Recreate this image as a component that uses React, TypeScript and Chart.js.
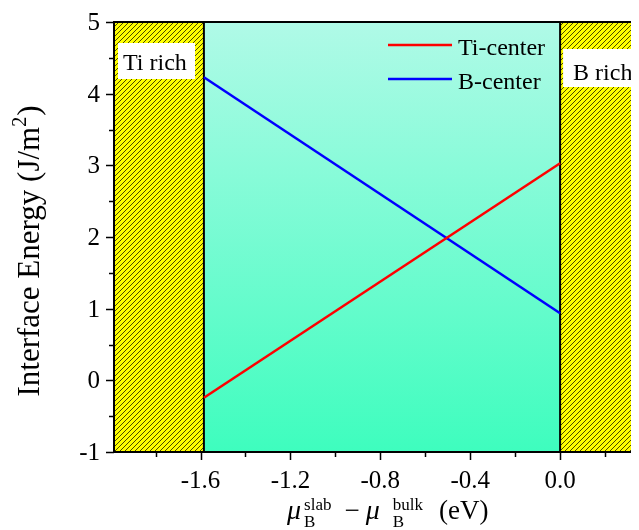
import React, { useEffect, useRef } from "react";
import { Chart, registerables } from "chart.js";

Chart.register(...registerables);

// ---- data ----
const muRange = [-1.585, 0]; // allowed chemical potential window (eV)
const tiCenter = [-0.243, 3.03]; // interface energy at muRange ends (J/m^2)
const bCenter = [4.228, 0.935];
const seriesNames = ["Ti-center", "B-center"];
const regionLabels = ["Ti rich", "B rich"];
const xMajorTicks = [-1.6, -1.2, -0.8, -0.4, 0.0];
const xMinorTicks = [-1.8, -1.4, -1.0, -0.6, -0.2, 0.2];
const yMajorTicks = [-1, 0, 1, 2, 3, 4, 5];
const yMinorTicks = [-0.5, 0.5, 1.5, 2.5, 3.5, 4.5];
const X_MIN = -1.985;
const X_MAX = 0.4;
const Y_MIN = -1;
const Y_MAX = 5;

const SERIF = '"Liberation Serif", "Times New Roman", serif';

function makeHatch(ctx: CanvasRenderingContext2D) {
  const s = 5;
  const c = document.createElement("canvas");
  c.width = s;
  c.height = s;
  const p = c.getContext("2d")!;
  p.fillStyle = "#ffff00";
  p.fillRect(0, 0, s, s);
  p.strokeStyle = "#1a1a00";
  p.lineWidth = 0.8;
  p.beginPath();
  p.moveTo(-1, s + 1);
  p.lineTo(s + 1, -1);
  p.moveTo(-1, 1);
  p.lineTo(1, -1);
  p.moveTo(s - 1, s + 1);
  p.lineTo(s + 1, s - 1);
  p.stroke();
  return ctx.createPattern(c, "repeat")!;
}

const decorPlugin = {
  id: "decor",
  beforeDatasetsDraw(chart: any) {
    const { ctx, chartArea: a, scales } = chart;
    const xs = scales.x;
    const x0 = xs.getPixelForValue(muRange[0]);
    const x1 = xs.getPixelForValue(muRange[1]);
    ctx.save();
    ctx.beginPath();
    ctx.rect(a.left, a.top, a.right - a.left, a.bottom - a.top);
    ctx.clip();
    const hatch = makeHatch(ctx);
    ctx.fillStyle = hatch;
    ctx.fillRect(a.left, a.top, x0 - a.left, a.bottom - a.top);
    ctx.fillRect(x1, a.top, a.right - x1, a.bottom - a.top);
    const g = ctx.createLinearGradient(0, a.top, 0, a.bottom);
    g.addColorStop(0, "rgb(176,250,231)");
    g.addColorStop(1, "rgb(62,253,190)");
    ctx.fillStyle = g;
    ctx.fillRect(x0, a.top, x1 - x0, a.bottom - a.top);
    ctx.strokeStyle = "#000";
    ctx.lineWidth = 2;
    ctx.beginPath();
    ctx.moveTo(x0, a.top);
    ctx.lineTo(x0, a.bottom);
    ctx.moveTo(x1, a.top);
    ctx.lineTo(x1, a.bottom);
    ctx.stroke();

    // region label boxes
    ctx.font = `24px ${SERIF}`;
    ctx.textBaseline = "alphabetic";
    ctx.textAlign = "left";
    ctx.fillStyle = "#fff";
    ctx.fillRect(a.left + 4, a.top + 21, 77, 36);
    ctx.fillRect(x1 + 3, a.top + 27, 120, 38);
    ctx.fillStyle = "#000";
    ctx.fillText(regionLabels[0], a.left + 9, a.top + 48);
    ctx.fillText(regionLabels[1], x1 + 13, a.top + 58);
    ctx.restore();
  },
  afterDatasetsDraw(chart: any) {
    const { ctx, chartArea: a, scales } = chart;
    const xs = scales.x;
    const ys = scales.y;
    ctx.save();
    // legend
    const colors = ["#ff0000", "#0000ff"];
    const ly = [37, 71];
    ctx.font = `24px ${SERIF}`;
    ctx.textAlign = "left";
    ctx.textBaseline = "alphabetic";
    for (let i = 0; i < 2; i++) {
      ctx.strokeStyle = colors[i];
      ctx.lineWidth = 2.5;
      ctx.beginPath();
      ctx.moveTo(380, ly[i]);
      ctx.lineTo(444, ly[i]);
      ctx.stroke();
      ctx.fillStyle = "#000";
      ctx.fillText(seriesNames[i], 450, ly[i] + 10);
    }

    // frame
    ctx.strokeStyle = "#000";
    ctx.lineWidth = 2;
    ctx.strokeRect(a.left, a.top, a.right - a.left, a.bottom - a.top);

    // ticks
    ctx.lineWidth = 1.5;
    ctx.beginPath();
    for (const v of yMajorTicks) {
      const y = Math.round(ys.getPixelForValue(v)) + 0.5;
      ctx.moveTo(a.left - 8, y);
      ctx.lineTo(a.left, y);
    }
    for (const v of yMinorTicks) {
      const y = Math.round(ys.getPixelForValue(v)) + 0.5;
      ctx.moveTo(a.left - 5, y);
      ctx.lineTo(a.left, y);
    }
    for (const v of xMajorTicks) {
      const x = Math.round(xs.getPixelForValue(v)) + 0.5;
      ctx.moveTo(x, a.bottom);
      ctx.lineTo(x, a.bottom + 8);
    }
    for (const v of xMinorTicks) {
      const x = Math.round(xs.getPixelForValue(v)) + 0.5;
      ctx.moveTo(x, a.bottom);
      ctx.lineTo(x, a.bottom + 5);
    }
    ctx.stroke();

    // tick labels
    ctx.fillStyle = "#000";
    ctx.font = `25px ${SERIF}`;
    ctx.textAlign = "right";
    for (const v of yMajorTicks) {
      const y = ys.getPixelForValue(v);
      ctx.fillText(String(v), a.left - 14, y + 8);
    }
    ctx.textAlign = "center";
    for (const v of xMajorTicks) {
      const x = xs.getPixelForValue(v);
      ctx.fillText(v.toFixed(1), x, a.bottom + 36);
    }

    // y title
    ctx.save();
    ctx.translate(31, 243);
    ctx.rotate(-Math.PI / 2);
    ctx.textAlign = "left";
    const mainFont = `31px ${SERIF}`;
    const supFont = `20px ${SERIF}`;
    ctx.font = mainFont;
    const t1 = "Interface Energy (J/m";
    const w1 = ctx.measureText(t1).width;
    ctx.font = supFont;
    const w2 = ctx.measureText("2").width;
    ctx.font = mainFont;
    const w3 = ctx.measureText(")").width;
    const W = w1 + w2 + w3 + 1;
    let cx = -W / 2;
    ctx.fillText(t1, cx, 0);
    cx += w1;
    ctx.font = supFont;
    ctx.fillText("2", cx, -13);
    cx += w2 + 1;
    ctx.font = mainFont;
    ctx.fillText(")", cx, 0);
    ctx.restore();

    // x title
    ctx.textAlign = "left";
    const mu = "\u03bc";
    const muFont = `italic 28px ${SERIF}`;
    const scFont = `17px ${SERIF}`;
    const mFont = `27px ${SERIF}`;
    const base = 511;
    let x = 279;
    ctx.font = muFont;
    ctx.fillText(mu, x, base);
    x += ctx.measureText(mu).width + 3;
    ctx.font = scFont;
    ctx.fillText("slab", x, base - 9);
    ctx.fillText("B", x, base + 8);
    x += ctx.measureText("slab").width + 13;
    ctx.font = mFont;
    ctx.fillText("\u2212", x, base);
    x += ctx.measureText("\u2212").width + 6;
    ctx.font = muFont;
    ctx.fillText(mu, x, base);
    x += ctx.measureText(mu).width + 13;
    ctx.font = scFont;
    ctx.fillText("bulk", x, base - 9);
    ctx.fillText("B", x, base + 8);
    x += ctx.measureText("bulk").width + 16;
    ctx.font = mFont;
    ctx.fillText("(eV)", x, base);

    ctx.restore();
  },
};

export default function App() {
  const ref = useRef<HTMLCanvasElement>(null);
  useEffect(() => {
    if (!ref.current) return;
    const chart = new Chart(ref.current, {
      type: "line",
      data: {
        datasets: [
          {
            label: seriesNames[0],
            data: [
              { x: muRange[0], y: tiCenter[0] },
              { x: muRange[1], y: tiCenter[1] },
            ],
            borderColor: "#ff0000",
            borderWidth: 2.5,
            pointRadius: 0,
            fill: false,
          },
          {
            label: seriesNames[1],
            data: [
              { x: muRange[0], y: bCenter[0] },
              { x: muRange[1], y: bCenter[1] },
            ],
            borderColor: "#0000ff",
            borderWidth: 2.5,
            pointRadius: 0,
            fill: false,
          },
        ],
      },
      options: {
        animation: false,
        responsive: false,
        maintainAspectRatio: false,
        layout: { padding: { top: 14, right: 18, left: 0, bottom: 0 } },
        plugins: {
          legend: { display: false },
          tooltip: { enabled: false },
        },
        scales: {
          x: {
            type: "linear",
            min: X_MIN,
            max: X_MAX,
            grid: { display: false },
            border: { display: false },
            ticks: { display: false },
            afterFit: (s: any) => {
              s.height = 78;
            },
          },
          y: {
            type: "linear",
            min: Y_MIN,
            max: Y_MAX,
            grid: { display: false },
            border: { display: false },
            ticks: { display: false },
            afterFit: (s: any) => {
              s.width = 106;
            },
          },
        },
      },
      plugins: [decorPlugin],
    });
    return () => chart.destroy();
  }, []);
  return (
    <div style={{ width: 631, height: 522, overflow: "hidden" }}>
      <canvas ref={ref} width={660} height={522} style={{ display: "block" }} />
    </div>
  );
}
